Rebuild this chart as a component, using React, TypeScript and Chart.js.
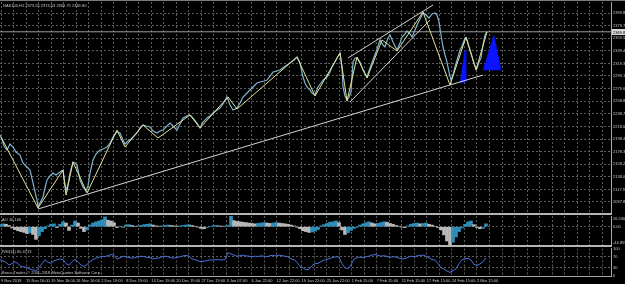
import React, { useEffect, useRef } from 'react';
import { Chart, registerables } from 'chart.js';

Chart.register(...registerables);

// ---------- data ----------
const xLabels = [
  '9 Nov 2018', '15 Nov 16:00', '19 Nov 16:00', '26 Nov 16:00', '2 Dec 19:00',
  '8 Dec 19:00', '14 Dec 19:00', '20 Dec 19:00', '27 Dec 19:00', '3 Jan 07:00',
  '6 Jan 22:00', '12 Jan 22:00', '19 Jan 22:00', '25 Jan 22:00', '1 Feb 15:00',
  '7 Feb 15:00', '11 Feb 15:00', '17 Feb 15:00', '24 Feb 15:00', '2 Mar 15:00',
];
const LABEL_STEP = 25.05; // bars between two time labels
const X_MAX = 611;

const priceTicks = [
  2399.85, 2379.71, 2359.58, 2339.44, 2319.3, 2299.17, 2279.03, 2258.89,
  2238.76, 2218.62, 2198.48, 2178.35, 2158.21, 2138.07, 2117.94, 2097.8,
];
const priceMin = 2078.62;
const priceMax = 2417.43;
const lastPrice = 2369.8;

const priceBars = [
  0, 2, 4, 7, 10, 13, 16, 20, 23, 26, 30, 33, 35, 37, 38, 40, 43, 45, 47, 50,
  53, 56, 60, 63, 65, 67, 70, 73, 75, 77, 80, 83, 86, 88, 90, 93, 96, 100, 103, 107,
  110, 113, 117, 120, 123, 125, 128, 130, 133, 137, 140, 143, 146, 150, 153, 157, 160, 163, 167, 170,
  173, 177, 180, 183, 187, 190, 193, 197, 200, 203, 207, 210, 213, 217, 220, 223, 227, 230, 233, 237,
  240, 243, 247, 250, 254, 257, 260, 264, 267, 270, 273, 277, 280, 284, 287, 290, 294, 297, 300, 303,
  305, 307, 310, 312, 315, 318, 321, 323, 327, 330, 332, 335, 337, 340, 342, 343, 345, 347, 349, 351,
  353, 355, 357, 360, 363, 367, 370, 373, 376, 380, 383, 385, 388, 390, 393, 397, 400, 402, 405, 407,
  410, 412, 415, 418, 421, 423, 426, 429, 432, 435, 437, 439, 441, 443, 445, 447, 449, 451, 453, 455,
  458, 460, 462, 465, 467, 469, 471, 473, 475, 477, 479, 481, 483, 485, 487,
];
const priceClose = [
  2204.9, 2198.5, 2187.3, 2180.9, 2190.5, 2185.7, 2177.7, 2172.9, 2160.1, 2155.3,
  2148.9, 2128.2, 2113.8, 2101.0, 2089.8, 2096.2, 2105.8, 2120.2, 2133.0, 2139.4,
  2144.1, 2140.9, 2145.7, 2148.9, 2125.0, 2117.0, 2144.1, 2161.7, 2160.1, 2156.9,
  2133.0, 2121.8, 2115.4, 2123.4, 2144.1, 2164.9, 2174.5, 2180.9, 2182.5, 2185.7,
  2192.1, 2201.7, 2209.7, 2208.1, 2196.9, 2190.5, 2195.3, 2196.9, 2201.7, 2208.1,
  2216.1, 2220.8, 2219.2, 2217.7, 2211.3, 2208.1, 2211.3, 2212.9, 2219.2, 2224.0,
  2219.2, 2212.9, 2222.4, 2232.0, 2235.2, 2236.8, 2232.0, 2224.0, 2216.1, 2225.6,
  2232.0, 2235.2, 2240.0, 2244.8, 2248.0, 2254.4, 2265.6, 2252.8, 2244.8, 2248.0,
  2256.0, 2265.6, 2272.0, 2276.8, 2283.2, 2288.0, 2289.6, 2291.1, 2292.7, 2299.1,
  2305.5, 2307.1, 2308.7, 2313.5, 2316.7, 2319.9, 2324.7, 2329.5, 2319.9, 2297.5,
  2288.0, 2281.6, 2276.8, 2272.0, 2268.8, 2281.6, 2288.0, 2292.7, 2297.5, 2305.5,
  2313.5, 2321.5, 2327.9, 2335.9, 2313.5, 2281.6, 2267.2, 2260.8, 2265.6, 2273.6,
  2321.5, 2327.9, 2327.9, 2321.5, 2308.7, 2297.5, 2311.9, 2324.7, 2337.5, 2356.7,
  2348.7, 2345.5, 2359.9, 2364.7, 2353.5, 2340.7, 2351.9, 2361.5, 2366.3, 2371.1,
  2366.3, 2361.5, 2372.7, 2383.9, 2393.5, 2399.9, 2396.7, 2391.8, 2398.3, 2399.9,
  2396.7, 2385.4, 2364.7, 2345.5, 2332.7, 2321.5, 2305.5, 2292.7, 2300.7, 2313.5,
  2329.5, 2340.7, 2347.1, 2359.9, 2356.7, 2345.5, 2335.9, 2324.7, 2315.1, 2311.9,
  2321.5, 2327.9, 2348.7, 2364.7, 2369.8,
];

const zigBars = [1, 38, 63, 66, 73, 87, 117, 125, 143, 158, 190, 200, 228, 237, 297, 315, 340, 347, 357, 367, 382, 397, 423, 450, 466, 476, 487];
const zigValues = [
  2201.7, 2088.2, 2148.9, 2109.0, 2161.7, 2112.2, 2212.9, 2185.7, 2220.8, 2200.1,
  2236.8, 2216.1, 2265.6, 2246.4, 2329.5, 2267.2, 2335.9, 2259.2, 2329.5, 2295.9,
  2356.7, 2339.1, 2401.4, 2284.8, 2361.5, 2308.7, 2369.8,
];

const supportBars = [38, 483];
const supportValues = [2086.6, 2300.7];
const channelUpBars = [348, 433];
const channelUpValues = [2327.9, 2412.6];
const channelLowBars = [350, 430];
const channelLowValues = [2257.6, 2388.7];

const smallTriBars = [460, 465, 466, 460];
const smallTriValues = [2288.0, 2340.7, 2289.6, 2288.0];
const bigTriBars = [483, 494, 501, 483];
const bigTriValues = [2308.7, 2364.7, 2308.7, 2308.7];

const AO_STEP = 3;
const aoMin = -44.855;
const aoMax = 26.246;
const aoValues = [
  5, 7, 6, 3, -3, -7, -10, -12, -14, -17,
  -15, -19, -31, -22, -12, -5, 2, 6, 7, -2,
  6, 12, 9, -9, 4, 14, 9, -4, -12, -8,
  4, 9, 12, 14, 17, 24, 16, 14, 10, -2,
  1, -1, 4, 5, 3, 1, 2, 3, 5, 6,
  7, 4, 2, 1, 2, 3, 4, 3, 2, 1,
  2, 3, 4, 5, 3, 1, -1, -4, -5, -2,
  1, 2, 3, 2, 1, 2, 3, 26, 15, 13,
  12, 11, 10, 9, 8, 7, 8, 9, 10, 9,
  8, 9, 10, 9, 8, 7, 6, 4, 2, -1,
  -5, -10, -12, -14, -13, -11, -7, 2, 5, 8,
  11, 12, 14, 10, -8, -19, -15, -9, -4, -1,
  4, 7, 10, 12, 9, 7, 8, 10, 12, 11,
  8, 6, 3, 1, -1, -2, 2, 6, 8, 9,
  7, 8, 9, 6, 4, 1, -2, -8, -20, -35,
  -44, -38, -25, -12, -3, 6, 12, 14, 5, -2,
  -5, -4, 7,
];

const RSI_STEP = 3;
const rsiTicks = [0, 30, 70, 100];
const rsiValues = [
  59, 55, 50, 40, 45, 52, 45, 35, 33, 30,
  25, 22, 20, 30, 45, 59, 50, 46, 55, 59,
  62, 60, 45, 39, 52, 60, 52, 40, 35, 42,
  52, 60, 65, 68, 72, 70, 74, 78, 76, 62,
  66, 72, 70, 68, 65, 67, 70, 72, 70, 68,
  66, 62, 64, 66, 70, 72, 70, 66, 65, 68,
  70, 73, 75, 72, 62, 59, 55, 52, 54, 56,
  59, 58, 60, 59, 58, 60, 85, 80, 76, 72,
  74, 76, 73, 72, 70, 72, 71, 73, 72, 70,
  74, 75, 73, 76, 74, 72, 70, 62, 59, 50,
  35, 30, 22, 24, 38, 45, 46, 52, 58, 60,
  64, 68, 70, 69, 45, 30, 26, 40, 62, 66,
  69, 67, 70, 72, 76, 78, 75, 72, 74, 71,
  68, 70, 69, 65, 62, 64, 68, 72, 70, 73,
  75, 76, 72, 66, 60, 58, 45, 30, 25, 18,
  13, 20, 26, 45, 59, 62, 64, 58, 42, 39,
  44, 52, 66,
];

const titleText = 'NAS100,H1  2373.25 2374.53 2369.75 2369.80';
const aoLabel = 'AO 10.106';
const rsiLabel = 'RSI(14) 65.4713';
const copyright = 'Broco Trader, © 2001-2018 MetaQuotes Software Corp.';

// ---------- styles ----------
const FONT = '"Liberation Sans", Arial, sans-serif';
const TEXT = '#c8c8c8';
const GRID = '#5c5c5c';
const FRAME = '#a8a8a8';
const PRICE = '#7fb4cf';
const ZIG = '#e2e29a';
const TREND = '#d4d4d4';
const TRI = '#0a14ff';
const AO_UP = '#2f8fb8';
const AO_DOWN = '#b8b8b8';
const RSI = '#4a6fd6';
const FS = 4;

const xGrid = Array.from({ length: 49 }, (_, k) => 1 + (k * LABEL_STEP) / 2);

const pts = (bars: number[], vals: number[]) =>
  bars.slice(0, Math.min(bars.length, vals.length)).map((b, i) => ({ x: b, y: vals[i] }));

function timeAxis(showLabels: boolean): any {
  return {
    type: 'linear',
    min: 0,
    max: X_MAX,
    offset: false,
    afterBuildTicks: (s: any) => {
      s.ticks = xGrid.map((v) => ({ value: v }));
    },
    grid: { color: GRID, lineWidth: 1, drawTicks: false, offset: false },
    border: { display: showLabels, color: FRAME, dash: [2, 2] },
    ticks: {
      display: showLabels,
      autoSkip: false,
      maxRotation: 0,
      minRotation: 0,
      align: 'start',
      padding: 2,
      color: TEXT,
      font: { family: FONT, size: FS },
      callback: (_v: any, i: number) => (i % 2 === 0 ? xLabels[i / 2] ?? '' : ''),
    },
    afterFit: (s: any) => {
      s.height = showLabels ? 8 : 0;
      s.paddingLeft = 0;
      s.paddingRight = 0;
    },
  };
}

function valueAxis(min: number, max: number, ticks: number[], fmt: (v: number) => string, gridColor: any): any {
  return {
    position: 'right',
    min,
    max,
    afterBuildTicks: (s: any) => {
      s.ticks = ticks.map((v) => ({ value: v }));
    },
    grid: { color: gridColor, drawTicks: false },
    border: { display: true, color: FRAME, dash: [2, 2] },
    ticks: {
      color: TEXT,
      font: { family: FONT, size: FS },
      padding: 2,
      callback: (v: any) => fmt(Number(v)),
    },
    afterFit: (s: any) => {
      s.width = 14;
      s.paddingTop = 0;
      s.paddingBottom = 0;
    },
  };
}

const baseOptions = (padTop: number): any => ({
  animation: false,
  responsive: false,
  maintainAspectRatio: false,
  events: [],
  layout: { padding: { top: padTop, left: 0, right: 0, bottom: 0 }, autoPadding: false },
  plugins: { legend: { display: false }, tooltip: { enabled: false } },
  elements: { point: { radius: 0 }, line: { tension: 0 } },
});

const priceTagPlugin = {
  id: 'priceTag',
  afterDraw(chart: any) {
    const { ctx, chartArea, scales } = chart;
    const py = Math.round(scales.y.getPixelForValue(lastPrice));
    ctx.save();
    ctx.fillStyle = '#d8d8d8';
    ctx.fillRect(chartArea.right + 1, py - 3, 14, 6);
    ctx.fillStyle = '#000';
    ctx.font = `${FS}px ${FONT}`;
    ctx.textBaseline = 'middle';
    ctx.textAlign = 'left';
    ctx.fillText(lastPrice.toFixed(2), chartArea.right + 2, py + 0.5);
    ctx.restore();
  },
};

const aoEdgePlugin = {
  id: 'aoEdge',
  afterDraw(chart: any) {
    const { ctx, chartArea } = chart;
    ctx.save();
    ctx.fillStyle = TEXT;
    ctx.font = `${FS}px ${FONT}`;
    ctx.textAlign = 'left';
    ctx.textBaseline = 'top';
    ctx.fillText(aoMax.toFixed(3), chartArea.right + 2, chartArea.top + 1);
    ctx.textBaseline = 'bottom';
    ctx.fillText(aoMin.toFixed(3), chartArea.right + 2, chartArea.bottom);
    ctx.restore();
  },
};

export default function App() {
  const mainRef = useRef<HTMLCanvasElement>(null);
  const aoRef = useRef<HTMLCanvasElement>(null);
  const rsiRef = useRef<HTMLCanvasElement>(null);

  useEffect(() => {
    document.body.style.margin = '0';
    document.body.style.background = '#000';
    const charts: Chart[] = [];

    if (mainRef.current) {
      charts.push(
        new Chart(mainRef.current, {
          type: 'line',
          data: {
            datasets: [
              { data: pts(zigBars, zigValues), borderColor: ZIG, borderWidth: 1 },
              { data: pts(priceBars, priceClose), borderColor: PRICE, borderWidth: 1.2 },
              { data: pts(supportBars, supportValues), borderColor: TREND, borderWidth: 1 },
              { data: pts(channelUpBars, channelUpValues), borderColor: TREND, borderWidth: 1 },
              { data: pts(channelLowBars, channelLowValues), borderColor: TREND, borderWidth: 1 },
              { data: pts(smallTriBars, smallTriValues), borderColor: TRI, borderWidth: 0.5, backgroundColor: TRI, fill: 'shape' },
              { data: pts(bigTriBars, bigTriValues), borderColor: TRI, borderWidth: 0.5, backgroundColor: TRI, fill: 'shape' },
              { data: [{ x: 0, y: lastPrice }, { x: X_MAX, y: lastPrice }], borderColor: '#9a9a9a', borderWidth: 1 },
            ] as any,
          },
          options: {
            ...baseOptions(2),
            scales: {
              x: timeAxis(false),
              y: valueAxis(priceMin, priceMax, priceTicks, (v) => v.toFixed(2), GRID),
            },
          },
          plugins: [priceTagPlugin],
        }),
      );
    }

    if (aoRef.current) {
      const colors = aoValues.map((v, i) => (i > 0 && v < aoValues[i - 1] ? AO_DOWN : AO_UP));
      charts.push(
        new Chart(aoRef.current, {
          type: 'bar',
          data: {
            datasets: [
              {
                data: aoValues.map((v, i) => ({ x: i * AO_STEP, y: v })),
                backgroundColor: colors,
                borderWidth: 0,
                barThickness: AO_STEP,
                grouped: false,
              },
            ] as any,
          },
          options: {
            ...baseOptions(1),
            scales: {
              x: timeAxis(false),
              y: valueAxis(aoMin, aoMax, [0], (v) => v.toFixed(2), GRID),
            },
          },
          plugins: [aoEdgePlugin],
        }),
      );
    }

    if (rsiRef.current) {
      charts.push(
        new Chart(rsiRef.current, {
          type: 'line',
          data: {
            datasets: [
              {
                data: rsiValues.map((v, i) => ({ x: i * RSI_STEP, y: v })),
                borderColor: RSI,
                borderWidth: 1,
              },
            ] as any,
          },
          options: {
            ...baseOptions(1.5),
            scales: {
              x: timeAxis(true),
              y: valueAxis(0, 100, rsiTicks, (v) => String(v), (c: any) =>
                c.tick && (c.tick.value === 30 || c.tick.value === 70) ? GRID : 'rgba(0,0,0,0)',
              ),
            },
          },
        }),
      );
    }

    return () => charts.forEach((c) => c.destroy());
  }, []);

  const txt: React.CSSProperties = {
    position: 'absolute',
    color: TEXT,
    font: `${FS}px ${FONT}`,
    lineHeight: '5px',
    whiteSpace: 'nowrap',
  };

  return (
    <div style={{ position: 'fixed', left: 0, top: 0, width: 625, height: 284, background: '#000', overflow: 'hidden' }}>
      <canvas ref={mainRef} width={625} height={214} style={{ position: 'absolute', left: 0, top: 0 }} />
      <canvas ref={aoRef} width={625} height={30} style={{ position: 'absolute', left: 0, top: 215 }} />
      <canvas ref={rsiRef} width={625} height={37} style={{ position: 'absolute', left: 0, top: 247 }} />
      <div style={{ position: 'absolute', left: 0, top: 0, width: 625, height: 1, background: '#7a7a7a' }} />
      <div style={{ position: 'absolute', left: 0, top: 213, width: 612, height: 2, background: '#b4b4b4' }} />
      <div style={{ position: 'absolute', left: 0, top: 245, width: 612, height: 2, background: '#b4b4b4' }} />
      <div style={{ ...txt, left: 3, top: 3 }}>{titleText}</div>
      <div style={{ ...txt, left: 2, top: 217 }}>{aoLabel}</div>
      <div style={{ ...txt, left: 2, top: 249 }}>{rsiLabel}</div>
      <div style={{ ...txt, left: 2, top: 270 }}>{copyright}</div>
    </div>
  );
}
